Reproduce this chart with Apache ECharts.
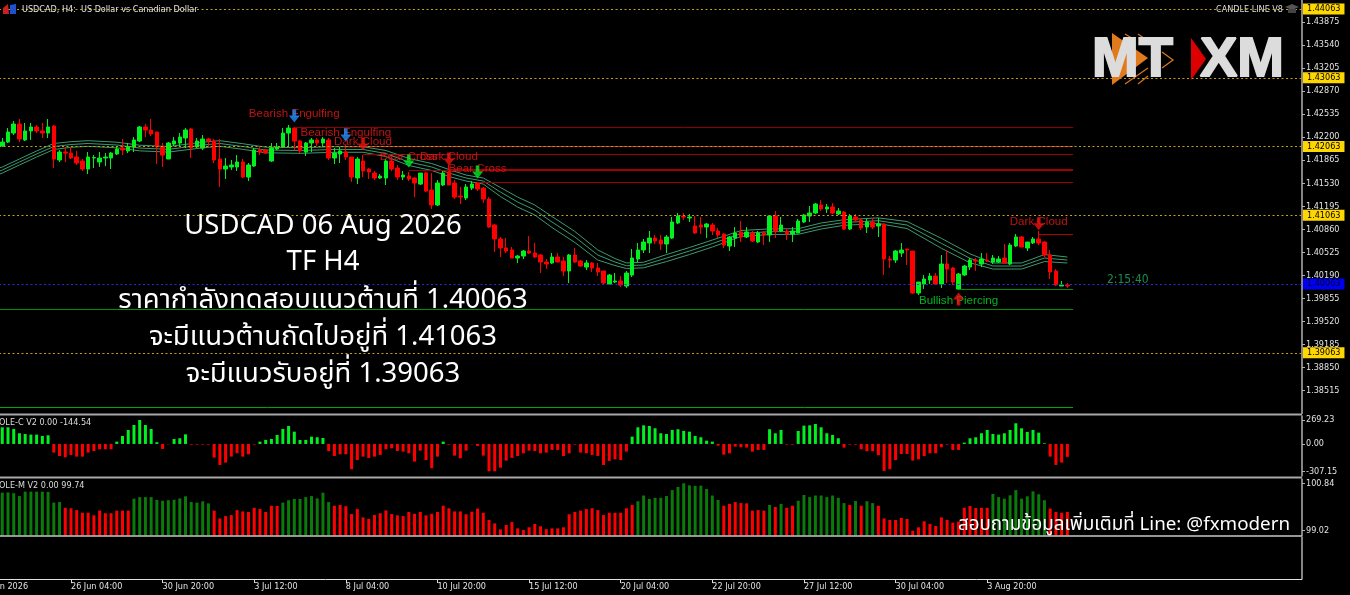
<!DOCTYPE html>
<html><head><meta charset="utf-8">
<style>html,body{margin:0;padding:0;background:#000}#c{width:1350px;height:595px}</style>
<script src="https://cdn.jsdelivr.net/npm/echarts@6/dist/echarts.min.js"></script>
</head><body><div id="c"></div>
<script>
const tickLabels=['22 Jun 2026','26 Jun 04:00','30 Jun 20:00','3 Jul 12:00','8 Jul 04:00','10 Jul 20:00','15 Jul 12:00','20 Jul 04:00','22 Jul 20:00','27 Jul 12:00','30 Jul 04:00','3 Aug 20:00'];
const priceTicks=[1.43875,1.43540,1.43205,1.42870,1.42535,1.42200,1.41865,1.41530,1.41195,1.40860,1.40525,1.40190,1.39855,1.39520,1.39185,1.38850,1.38515];
const oscTicks=[269.23,0,-307.15];
const momTicks=[100.84,99.02];
const keyLevels=[1.44063,1.43063,1.42063,1.41063,1.39063];
const currentLevel=1.40063;

const priceOpen=[
1.42070,1.42128,1.42259,1.42390,1.42158,1.42289,1.42347,1.42289,1.42259,1.42361,
1.41867,1.41983,1.41968,1.41910,1.41852,1.41736,1.41896,1.41838,1.41896,1.41896,
1.41954,1.42041,1.41998,1.42056,1.42143,1.42347,1.42303,1.42274,1.42056,1.41881,
1.42099,1.42114,1.42187,1.42318,1.42056,1.42041,1.42172,1.42143,1.41881,1.41736,
1.41765,1.41765,1.41838,1.41619,1.41779,1.42012,1.42012,1.41852,1.42027,1.42056,
1.42259,1.42332,1.42143,1.41983,1.42114,1.42158,1.42114,1.42158,1.41896,1.41954,
1.41983,1.41910,1.41605,1.41852,1.41736,1.41677,1.41605,1.41605,1.41852,1.41750,
1.41619,1.41634,1.41605,1.41517,1.41677,1.41430,1.41212,1.41503,1.41692,1.41532,
1.41343,1.41314,1.41459,1.41532,1.41459,1.41299,1.40921,1.40718,1.40587,1.40558,
1.40441,1.40470,1.40543,1.40514,1.40485,1.40383,1.40369,1.40456,1.40398,1.40252,
1.40485,1.40398,1.40310,1.40369,1.40296,1.40252,1.40063,1.40092,1.40107,1.40034,
1.40194,1.40427,1.40558,1.40660,1.40732,1.40703,1.40645,1.40732,1.40951,1.41052,
1.41023,1.40907,1.40921,1.40892,1.40921,1.40834,1.40791,1.40616,1.40732,1.40820,
1.40747,1.40805,1.40674,1.40805,1.40776,1.41052,1.40834,1.40834,1.40791,1.40805,
1.40965,1.41052,1.41096,1.41212,1.41154,1.41183,1.41081,1.41110,1.40863,1.41038,
1.40994,1.40892,1.40965,1.40907,1.40936,1.40427,1.40412,1.40514,1.40572,1.40543,
1.39932,1.40063,1.40121,1.40179,1.40063,1.40354,1.40296,1.39990,1.40194,1.40310,
1.40412,1.40354,1.40412,1.40383,1.40383,1.40441,1.40354,1.40616,1.40747,1.40587,
1.40660,1.40718,1.40674,1.40485,1.40252,1.40034,1.40049];
const priceClose=[
1.42128,1.42274,1.42390,1.42172,1.42289,1.42347,1.42289,1.42259,1.42347,1.41881,
1.41983,1.41968,1.41896,1.41823,1.41736,1.41910,1.41903,1.41896,1.41910,1.41968,
1.42027,1.42012,1.42056,1.42158,1.42347,1.42303,1.42245,1.42056,1.41939,1.42114,
1.42143,1.42201,1.42303,1.42041,1.42143,1.42172,1.42143,1.41867,1.41736,1.41779,
1.41794,1.41838,1.41619,1.41794,1.42012,1.41983,1.41968,1.42041,1.42056,1.42259,
1.42332,1.42143,1.41998,1.42114,1.42158,1.42114,1.42172,1.41896,1.41968,1.41998,
1.41910,1.41619,1.41881,1.41707,1.41692,1.41605,1.41634,1.41852,1.41736,1.41619,
1.41648,1.41590,1.41532,1.41677,1.41416,1.41212,1.41532,1.41677,1.41503,1.41328,
1.41328,1.41474,1.41517,1.41445,1.41299,1.40892,1.40718,1.40587,1.40543,1.40441,
1.40470,1.40543,1.40514,1.40456,1.40383,1.40354,1.40456,1.40383,1.40252,1.40485,
1.40383,1.40325,1.40369,1.40296,1.40238,1.40078,1.40194,1.40107,1.40049,1.40223,
1.40441,1.40558,1.40674,1.40732,1.40689,1.40645,1.40747,1.40965,1.41052,1.41038,
1.41038,1.40805,1.40892,1.40936,1.40834,1.40776,1.40630,1.40747,1.40805,1.40747,
1.40820,1.40689,1.40805,1.40776,1.41052,1.40834,1.40921,1.40791,1.40834,1.40980,
1.41067,1.41096,1.41227,1.41154,1.41183,1.41096,1.41125,1.40863,1.41052,1.40994,
1.40878,1.40965,1.40892,1.40936,1.40427,1.40412,1.40543,1.40558,1.40558,1.39932,
1.40092,1.40136,1.40179,1.40063,1.40354,1.40281,1.40092,1.40209,1.40325,1.40412,
1.40398,1.40427,1.40398,1.40441,1.40427,1.40369,1.40630,1.40747,1.40601,1.40674,
1.40718,1.40660,1.40485,1.40238,1.40049,1.40049,1.40034];
const priceLow=[
1.42056,1.42114,1.42230,1.42128,1.42143,1.42158,1.42259,1.42187,1.42187,1.41750,
1.41838,1.41838,1.41881,1.41794,1.41707,1.41663,1.41750,1.41765,1.41779,1.41736,
1.41939,1.41939,1.41968,1.41983,1.42128,1.42201,1.42216,1.41808,1.41765,1.41881,
1.42070,1.42056,1.42041,1.41896,1.42041,1.42012,1.42056,1.41823,1.41474,1.41590,
1.41721,1.41707,1.41605,1.41561,1.41765,1.41939,1.41954,1.41838,1.42012,1.42041,
1.42056,1.42012,1.41968,1.41925,1.41983,1.42070,1.42056,1.41867,1.41808,1.41823,
1.41867,1.41547,1.41517,1.41619,1.41590,1.41576,1.41590,1.41503,1.41707,1.41576,
1.41576,1.41561,1.41328,1.41503,1.41401,1.41154,1.41198,1.41488,1.41503,1.41299,
1.41227,1.41285,1.41430,1.41416,1.41241,1.40878,1.40529,1.40456,1.40514,1.40441,
1.40369,1.40427,1.40500,1.40441,1.40223,1.40281,1.40354,1.40383,1.40179,1.40078,
1.40369,1.40310,1.40267,1.40238,1.40179,1.40049,1.40063,1.40078,1.40019,1.40005,
1.40165,1.40383,1.40514,1.40514,1.40645,1.40558,1.40514,1.40718,1.40936,1.40994,
1.40965,1.40791,1.40791,1.40732,1.40776,1.40732,1.40587,1.40543,1.40601,1.40674,
1.40732,1.40674,1.40660,1.40630,1.40674,1.40732,1.40820,1.40703,1.40674,1.40805,
1.40951,1.40965,1.41081,1.41125,1.41096,1.41081,1.41067,1.40849,1.40849,1.40965,
1.40849,1.40805,1.40863,1.40747,1.40194,1.40296,1.40369,1.40456,1.40340,1.39918,
1.39903,1.39990,1.40063,1.40049,1.40005,1.40078,1.40049,1.39976,1.40179,1.40267,
1.40252,1.40310,1.40383,1.40354,1.40369,1.40354,1.40340,1.40601,1.40601,1.40543,
1.40645,1.40630,1.40456,1.40136,1.40034,1.40034,1.40005];
const priceHigh=[
1.42187,1.42332,1.42434,1.42463,1.42405,1.42405,1.42376,1.42405,1.42463,1.42376,
1.42012,1.42056,1.42056,1.41998,1.41881,1.41983,1.41939,1.41983,1.41968,1.41983,
1.42056,1.42172,1.42114,1.42201,1.42361,1.42390,1.42463,1.42274,1.42114,1.42128,
1.42201,1.42259,1.42332,1.42332,1.42187,1.42230,1.42187,1.42172,1.42172,1.41896,
1.41867,1.41939,1.41881,1.41823,1.42041,1.42056,1.42027,1.42114,1.42114,1.42332,
1.42376,1.42347,1.42158,1.42128,1.42187,1.42187,1.42201,1.42187,1.42041,1.42056,
1.42085,1.41910,1.41910,1.41939,1.41750,1.41707,1.41663,1.41881,1.41910,1.41794,
1.41707,1.41692,1.41619,1.41677,1.41692,1.41677,1.41576,1.41707,1.41794,1.41576,
1.41474,1.41517,1.41561,1.41547,1.41474,1.41328,1.40936,1.40747,1.40732,1.40601,
1.40485,1.40558,1.40761,1.40660,1.40500,1.40427,1.40514,1.40514,1.40456,1.40500,
1.40587,1.40412,1.40412,1.40383,1.40369,1.40252,1.40209,1.40223,1.40179,1.40252,
1.40572,1.40660,1.40718,1.40834,1.40776,1.40776,1.40776,1.41038,1.41096,1.41096,
1.41081,1.41052,1.41038,1.40951,1.40951,1.40878,1.40805,1.40761,1.40892,1.40980,
1.40892,1.40834,1.40834,1.40834,1.41067,1.41125,1.41038,1.40878,1.40892,1.41009,
1.41081,1.41198,1.41241,1.41285,1.41227,1.41241,1.41169,1.41125,1.41081,1.41081,
1.41023,1.41009,1.41023,1.41023,1.40951,1.40470,1.40558,1.40660,1.40572,1.40543,
1.40092,1.40194,1.40223,1.40223,1.40485,1.40558,1.40310,1.40223,1.40340,1.40441,
1.40441,1.40514,1.40514,1.40485,1.40470,1.40645,1.40660,1.40791,1.40761,1.40674,
1.40747,1.40834,1.40689,1.40558,1.40281,1.40107,1.40078];

const maBars=[-1,0,3,6,9,12,15,20,24,29,35,38,42,46,52,58,63,67,71,75,78,81,84,87,90,93,96,100,104,107,109,112,116,120,124,129,134,139,143,147,153,158,164,169,173,178,182,186];
const maUpper=[1.41735,1.41765,1.41881,1.41998,1.42107,1.42133,1.42148,1.42126,1.42082,1.42063,1.42126,1.42148,1.42104,1.42053,1.42046,1.42060,1.42060,1.42005,1.41889,1.41816,1.41729,1.41648,1.41605,1.41467,1.41328,1.41212,1.41045,1.40827,1.40558,1.40434,1.40370,1.40380,1.40492,1.40594,1.40703,1.40841,1.40865,1.40868,1.40951,1.40998,1.41025,1.40972,1.40728,1.40502,1.40369,1.40369,1.40492,1.40456];
const maMiddle=[1.41690,1.41721,1.41838,1.41954,1.42063,1.42092,1.42107,1.42085,1.42041,1.42022,1.42085,1.42107,1.42063,1.42012,1.42005,1.42020,1.42020,1.41961,1.41838,1.41765,1.41677,1.41605,1.41561,1.41401,1.41256,1.41139,1.40965,1.40747,1.40485,1.40383,1.40329,1.40340,1.40441,1.40543,1.40652,1.40798,1.40824,1.40827,1.40907,1.40958,1.40984,1.40921,1.40655,1.40437,1.40325,1.40325,1.40441,1.40412];
const maLower=[1.41645,1.41677,1.41794,1.41910,1.42019,1.42052,1.42066,1.42044,1.42000,1.41982,1.42044,1.42066,1.42022,1.41972,1.41964,1.41979,1.41979,1.41918,1.41787,1.41714,1.41627,1.41561,1.41517,1.41336,1.41183,1.41067,1.40885,1.40667,1.40412,1.40332,1.40289,1.40299,1.40390,1.40492,1.40601,1.40754,1.40783,1.40786,1.40863,1.40917,1.40943,1.40870,1.40583,1.40372,1.40281,1.40281,1.40390,1.40369];

const oscValues=[
187,187,168,120,112,105,105,90,97,-97,
-135,-150,-123,-142,-142,-97,-79,-60,-60,-60,
26,90,157,213,269.23,213,168,19,-56,-4,
56,64,108,-7,-7,-7,-7,-153,-236,-209,
-142,-105,-142,-116,-7,26,45,56,101,168,
202,138,45,45,82,75,67,-79,-135,-116,
-116,-284,-180,-142,-157,-142,-123,-60,-49,-79,
-86,-105,-198,-75,-180,-273,-142,26,-7,-131,
-161,-75,-4,-22,-131,-307.15,-307,-266,-187,-157,
-135,-105,-75,-79,-105,-97,-67,-67,-135,-105,
-7,-97,-105,-123,-135,-236,-191,-172,-180,-86,
82,187,209,202,176,120,112,157,165,146,
138,90,75,37,26,-19,-120,-105,-30,-37,
-41,-86,-67,-67,165,120,157,-7,-7,146,
206,209,224,187,120,101,64,-41,-7,-7,
-60,-82,-82,-127,-303,-284,-180,-112,-112,-187,
-172,-135,-105,-105,-37,-7,-67,-67,15,64,
75,120,157,112,105,120,157,232,176,135,
157,127,7,-142,-236,-209,-144.54];
const momentumValues=[
100.48,100.49,100.46,100.35,100.52,100.52,100.52,100.52,100.51,100.10,
100.12,99.90,99.88,99.81,99.71,99.71,99.61,99.79,99.69,99.69,
99.79,99.79,99.79,100.25,100.31,100.31,100.31,100.20,100.17,100.19,
100.21,100.26,100.34,100.12,100.10,100.15,100.07,99.79,99.49,99.58,
99.62,99.81,99.76,99.74,99.90,99.85,99.74,99.98,99.97,100.10,
100.19,100.24,100.24,100.31,100.35,100.26,100.48,100.12,99.98,100.01,
99.96,99.66,99.85,99.53,99.47,99.62,99.69,99.80,99.66,99.61,
99.58,99.74,99.67,99.74,99.61,99.67,99.74,99.98,99.88,99.76,
99.76,99.65,99.75,99.87,99.71,99.43,99.30,99.07,99.24,99.35,
99.11,99.05,99.15,99.28,99.19,99.08,99.11,99.11,99.15,99.65,
99.74,99.79,99.85,99.88,99.81,99.62,99.71,99.71,99.71,99.88,
100.01,100.15,100.37,100.24,100.28,100.28,100.35,100.58,100.70,100.84,
100.76,100.74,100.75,100.62,100.37,100.20,99.98,100.05,100.12,100.08,
100.07,99.79,99.81,99.79,100.01,99.93,100.05,99.90,99.98,100.17,
100.39,100.31,100.37,100.37,100.31,100.37,100.28,100.08,100.01,100.16,
99.98,100.15,100.08,99.98,99.49,99.43,99.43,99.51,99.47,99.02,
99.15,99.38,99.28,99.20,99.53,99.43,99.33,99.37,99.90,99.97,
99.89,99.90,99.90,100.43,100.31,100.25,100.38,100.58,100.25,100.34,
100.53,100.42,100.19,99.87,99.74,99.71,99.74];
const momentumGreenRuns=[[0,10],[23,36],[49,57],[111,125],[134,134],[136,136],[139,147],[149,149],[151,152],[173,182]];

const signalNames=['Bearish Engulfing','Bearish Engulfing','Dark Cloud','Bear Cross','Dark Cloud','Bear Cross','Dark Cloud','Bullish Piercing'];
const signalBars=[51,60,63,71,78,83,181,167];
const signalArrowPrices=[1.42507,1.42230,1.42099,1.41852,1.41881,1.41692,1.40941,1.39845];
const signalTextPrices=[1.42536,1.42259,1.42128,1.41910,1.41910,1.41736,1.40970,1.39820];
const signalArrowColors=['#1E90FF','#1E90FF','#EE1111','#00EE22','#EE1111','#00EE22','#EE1111','#EE1111'];
const signalTextColors=['#F01818','#F01818','#F01818','#F01818','#F01818','#F01818','#F01818','#00E028'];

const patternStartBars=[51,60,63,71,78,83,181,167,-4,-4];
const patternPrices=[1.42347,1.42060,1.41948,1.41712,1.41732,1.41537,1.40791,1.39983,1.39694,1.38274];
const patternColors=['#8E0000','#D02A10','#A00000','#A00000','#A00000','#A00000','#B00000','#009000','#009000','#00A800'];
const patternEndBar=187;

const annotationLines=['USDCAD 06 Aug 2026','TF H4','ราคากำลังทดสอบแนวต้านที่ 1.40063','จะมีแนวต้านถัดไปอยู่ที่ 1.41063','จะมีแนวรับอยู่ที่ 1.39063'];

const LEAD=4, TOTAL=232;
const cats=[]; for(let c=0;c<TOTAL;c++){cats.push(c%16===0&&tickLabels[c/16]?tickLabels[c/16]:'');}
const labelAt=(idx)=>idx%16===0&&idx/16<tickLabels.length;
const pad=[]; for(let c=0;c<LEAD;c++)pad.push(['-','-','-','-']);
const candleData=pad.concat(priceOpen.map((o,i)=>[o,priceClose[i],priceLow[i],priceHigh[i]]));
const padV=(a)=>new Array(LEAD).fill('-').concat(a);
const inRuns=(i)=>momentumGreenRuns.some(r=>i>=r[0]&&i<=r[1]);
const GL=-23.5,GW=1328.5;
const grid=[{top:0,height:413.5},{top:416,height:60},{top:479,height:56.5},{top:537,height:42}].map(g=>Object.assign(g,{left:GL,width:GW,outerBoundsMode:'none',containLabel:false}));
const AXC='#e2e2e2',FS=9,FF='"DejaVu Sans Condensed","Liberation Sans",Arial,sans-serif',SF='"Liberation Sans",Arial,sans-serif';
const xAxis=grid.map((g,k)=>({type:'category',gridIndex:k,data:cats,boundaryGap:true,axisLine:{show:false},splitLine:{show:false},
 axisTick:{show:k===3,alignWithLabel:true,interval:(i)=>labelAt(i),length:4,lineStyle:{color:'#ddd'},inside:false},
 axisLabel:{show:k===3,interval:(i)=>labelAt(i),align:'left',color:AXC,fontSize:FS,fontFamily:FF,margin:3,hideOverlap:false,showMinLabel:true}}));
const yBase=(k,min,max,ticks,dec)=>({type:'value',gridIndex:k,position:'right',offset:-3,min,max,splitLine:{show:false},
 axisLine:{show:true,onZero:false,lineStyle:{color:'#b0b0b0',width:1.5}},
 axisTick:{show:!!ticks,length:3,lineStyle:{color:'#b0b0b0'},customValues:ticks||undefined},
 axisLabel:{show:!!ticks,color:AXC,fontSize:FS,fontFamily:FF,margin:4,customValues:ticks||undefined,formatter:(v)=>(+v).toFixed(dec),showMinLabel:true,showMaxLabel:true,hideOverlap:false}});
const yAxis=[yBase(0,1.38180,1.44194,priceTicks,5),yBase(1,-360,314,oscTicks,2),yBase(2,98.836,101.005,momTicks,2),yBase(3,0,1,null,0)];
yAxis[3].axisTick={show:false};yAxis[3].axisLabel={show:false};

const tag=(bg,fg)=>({show:true,position:'end',distance:-2,formatter:(p)=>p.value.toFixed(5),backgroundColor:bg,color:fg,fontSize:FS,fontFamily:FF,padding:[1,4,0,4],lineHeight:10});
const maSeries=(vals)=>({type:'line',xAxisIndex:0,yAxisIndex:0,z:2,symbol:'none',silent:true,animation:false,lineStyle:{color:'#3a9a70',width:1},data:vals.map((v,k)=>[maBars[k]+LEAD,v])});
const series=[
 {type:'line',xAxisIndex:0,yAxisIndex:0,data:[],z:1,animation:false,markLine:{silent:true,symbol:'none',animation:false,precision:5,
  data:patternPrices.map((p,k)=>[{xAxis:patternStartBars[k]+LEAD,yAxis:p,lineStyle:{color:patternColors[k],width:1,type:'solid'},label:{show:false}},{xAxis:patternEndBar+LEAD,yAxis:p}])}},
 {type:'line',xAxisIndex:0,yAxisIndex:0,data:[],z:3,animation:false,markLine:{silent:true,symbol:'none',animation:false,precision:5,
  lineStyle:{color:'#C9A008',width:1,type:[2,2.5]},label:tag('#FFD700','#000'),
  data:keyLevels.map(v=>({yAxis:v})).concat([{yAxis:currentLevel,lineStyle:{color:'#2A2AE0',width:1,type:[2,2.5]},label:tag('#0000F0','#000022')}])}},
 maSeries(maUpper),maSeries(maMiddle),maSeries(maLower),
 {type:'candlestick',xAxisIndex:0,yAxisIndex:0,z:4,barWidth:4,animation:false,silent:true,data:candleData,
  itemStyle:{color:'#00F020',color0:'#FF0000',borderColor:'#00F020',borderColor0:'#FF0000',borderWidth:1}},
 {type:'scatter',xAxisIndex:0,yAxisIndex:0,z:5,symbolSize:1,silent:true,animation:false,itemStyle:{color:'rgba(0,0,0,0)'},
  data:signalBars.map((b,k)=>({value:[b+LEAD,signalTextPrices[k]],label:{show:true,position:'inside',formatter:signalNames[k],color:signalTextColors[k],fontSize:11.6,fontFamily:SF}})),labelLayout:{hideOverlap:false}},
 {type:'scatter',xAxisIndex:0,yAxisIndex:0,z:6,silent:true,animation:false,symbolSize:[11,13],
  data:signalBars.map((b,k)=>({value:[b+LEAD,signalArrowPrices[k]],symbol:signalNames[k].startsWith('Bullish')?'path://M6,0 L12,7 L8,7 L8,13 L4,13 L4,7 L0,7 Z':'path://M4,0 L8,0 L8,6 L12,6 L6,13 L0,6 L4,6 Z',itemStyle:{color:signalArrowColors[k]}}))},
 {type:'bar',xAxisIndex:1,yAxisIndex:1,barWidth:3,animation:false,silent:true,data:padV(oscValues.map(v=>({value:v,itemStyle:{color:v>=0?'#00F020':'#FF0000'}})))},
 {type:'bar',xAxisIndex:2,yAxisIndex:2,barWidth:3,animation:false,silent:true,data:padV(momentumValues.map((v,i)=>({value:v,itemStyle:{color:inRuns(i)?'#0A7A0A':'#FF0000'}})))}
];
const T=(text,x,y,size,fill,align,extra)=>Object.assign({type:'text',z:20,silent:true,style:{text,x,y,fill,font:size+'px '+FF,textAlign:align||'left',textVerticalAlign:'middle'}},extra||{});
const THAI='"Noto Sans Thai","Noto Sans","Open Sans",sans-serif';
const lineY=[228,264,302,339,376];
const sep=(y,c,w)=>({type:'line',z:15,silent:true,shape:{x1:0,y1:y,x2:1302,y2:y},style:{stroke:c,lineWidth:w}});
const poly=(pts,fill)=>({type:'polygon',z:19,silent:true,shape:{points:pts},style:{fill}});
const chev=(pts)=>({type:'polyline',z:19,silent:true,shape:{points:pts},style:{stroke:'#D8761E',lineWidth:1.3,fill:'none'}});
const logoText=(text,x)=>({type:'text',z:20,silent:true,style:{text,x,y:61,fill:'#DCDCDC',stroke:'#DCDCDC',lineWidth:2,font:'bold 56px "Liberation Sans",Arial,sans-serif',textAlign:'left',textVerticalAlign:'middle'}});
const graphic=[
 sep(414.5,'#a8a8a8',2),sep(477.5,'#a8a8a8',2),sep(536,'#c8c8c8',1.5),sep(579.5,'#e0e0e0',1),
 poly([[3,8],[8,4],[9,14],[3,14]],'#C82020'),poly([[10,5],[16,4],[16,14],[10,14]],'#2050D0'),
 T('USDCAD, H4:  US Dollar vs Canadian Dollar',22,9.5,FS,'#e2e2e2'),
 T('CANDLE LINE V8',1216,9.5,FS,'#dcdcdc'),
 poly([[1285,7],[1292,4],[1299,7],[1292,10]],'#555'),poly([[1288,9],[1296,9],[1296,13],[1288,13]],'#444'),
 T('OLE-C V2 0.00 -144.54',-1,423,FS,'#dcdcdc'),
 T('OLE-M V2 0.00 99.74',-1,486,FS,'#dcdcdc'),
 T('2:15:40',1107,280,12,'#1E8A50'),
 poly([[1112,33],[1148,58],[1112,85]],'#E07A1C'),
 chev([[1125,34],[1135,40]]),chev([[1138,34],[1148,41]]),chev([[1125,84],[1148,68]]),chev([[1138,84],[1148,76]]),chev([[1162,52],[1173,60],[1162,68]]),
 logoText('MT',1092),logoText('XM',1200),
 poly([[1191,38],[1206,59],[1191,80]],'#DD0000'),
 ...annotationLines.map((t,k)=>({type:'text',z:21,silent:true,style:{text:t,x:323,y:lineY[k],fill:'#fff',font:'27.5px '+THAI,textAlign:'center',textVerticalAlign:'middle'}})),
 {type:'text',z:21,silent:true,style:{text:'สอบถามข้อมูลเพิ่มเติมที่ Line: @fxmodern',x:1290,y:526,fill:'#fff',font:'18.8px '+THAI,textAlign:'right',textVerticalAlign:'middle'}}
];
const chart=echarts.init(document.getElementById('c'),null,{width:1350,height:595,renderer:'canvas'});
chart.setOption({backgroundColor:'#000',animation:false,grid,xAxis,yAxis,series,graphic});
</script></body></html>
